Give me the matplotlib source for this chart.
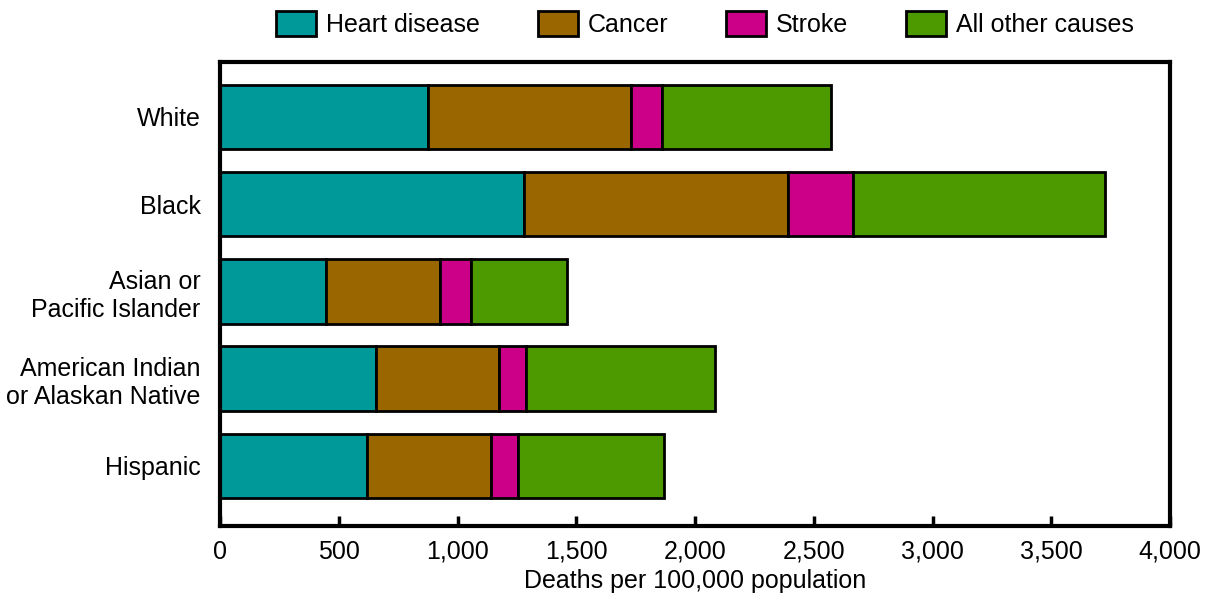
import matplotlib.pyplot as plt
import numpy as np

plt.rcParams['font.family'] = ['Liberation Sans', 'DejaVu Sans']

groups = ['White', 'Black', 'Asian or\nPacific Islander',
          'American Indian\nor Alaskan Native', 'Hispanic']
causes = ['Heart disease', 'Cancer', 'Stroke', 'All other causes']
heart = [876, 1280, 446, 657, 619]
cancer = [855, 1112, 480, 518, 522]
stroke = [130, 273, 131, 113, 114]
other = [712, 1061, 404, 796, 614]
colors = ['#009999', '#996600', '#CC0088', '#4D9900']

fig = plt.figure(figsize=(12.09, 5.93), dpi=100)
ax = fig.add_axes([220/1209, 1-526/593, 950/1209, 464/593])

y = np.arange(len(groups))
left = np.zeros(len(groups))
for name, vals, c in zip(causes, [heart, cancer, stroke, other], colors):
    ax.barh(y, vals, left=left, height=0.74, color=c, edgecolor='black',
            linewidth=2, label=name)
    left += np.array(vals)

ax.set_xlim(0, 4000)
ax.set_ylim(4.69, -0.63)
ax.set_yticks(y)
ax.set_yticklabels(groups, fontsize=18)
ax.set_xticks(range(0, 4001, 500))
ax.set_xticklabels([f'{v:,}' for v in range(0, 4001, 500)], fontsize=18)
ax.tick_params(axis='x', direction='in', length=7, width=2.5, pad=10)
ax.tick_params(axis='y', length=0, pad=14)
for s in ax.spines.values():
    s.set_linewidth(3)
ax.set_xlabel('Deaths per 100,000 population', fontsize=18, labelpad=4)

fig.legend(loc='upper center', bbox_to_anchor=(0.583, 1.02), ncol=4,
           frameon=False, fontsize=18, handlelength=1.6, handleheight=1.2,
           columnspacing=2.3, handletextpad=0.4)

fig.savefig('out.png', dpi=100)
